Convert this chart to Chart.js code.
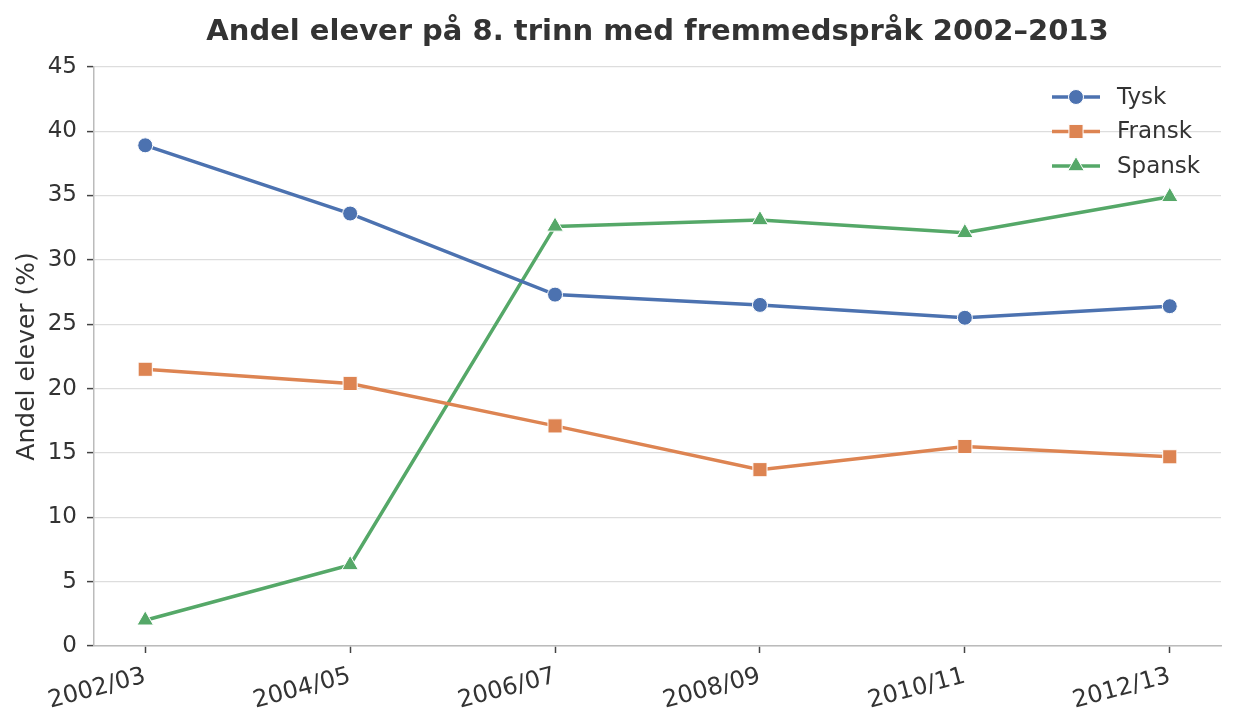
<!DOCTYPE html>
<html>
<head>
<meta charset="utf-8">
<script src="https://cdn.jsdelivr.net/npm/chart.js@4/dist/chart.umd.min.js"></script>
<style>
  html, body { margin: 0; padding: 0; background: #ffffff; }
  #wrap { width: 1236px; height: 726px; }
</style>
</head>
<body>
<div id="wrap"><canvas id="c1" width="1236" height="726"></canvas></div>
<script>
    'use strict'

    var years = ["2002/03", "2004/05", "2006/07", "2008/09", "2010/11", "2012/13"];
    var tysk = [38.9, 33.6, 27.3, 26.5, 25.5, 26.4];
    var fransk = [21.5, 20.4, 17.1, 13.7, 15.5, 14.7];
    var spansk = [2.0, 6.3, 32.6, 33.1, 32.1, 34.9];
    var yTicks = [0, 5, 10, 15, 20, 25, 30, 35, 40, 45];

    var FONT = "'DejaVu Sans', sans-serif";
    var TXT = '#333333';

    function toPoints(arr) {
        return arr.map(function (v, i) { return { x: i, y: v }; });
    }

    function makeSet(label, arr, color, style, r) {
        return {
            label: label,
            data: toPoints(arr),
            borderColor: color,
            backgroundColor: color,
            borderWidth: 3.5,
            tension: 0,
            pointStyle: style,
            pointRadius: r,
            pointHoverRadius: r,
            pointBackgroundColor: color,
            pointBorderColor: '#ffffff',
            pointBorderWidth: 1
        };
    }

    // legend drawn inside plot, top right, no frame
    var legendInside = {
        id: 'legendInside',
        beforeDraw: function (chart) {
            // centre the title over the plot area
            if (chart.titleBlock) {
                chart.titleBlock.left = chart.chartArea.left;
                chart.titleBlock.right = chart.chartArea.right;
            }
        },
        afterDraw: function (chart) {
            var ctx = chart.ctx;
            var x0 = 1052, x1 = 1100, tx = 1117;
            var y = 97, step = 34.5;
            ctx.save();
            chart.data.datasets.forEach(function (ds, i) {
                var yy = y + i * step;
                ctx.strokeStyle = ds.borderColor;
                ctx.lineWidth = 3.5;
                ctx.beginPath();
                ctx.moveTo(x0, yy);
                ctx.lineTo(x1, yy);
                ctx.stroke();
                ctx.fillStyle = ds.borderColor;
                ctx.strokeStyle = '#ffffff';
                ctx.lineWidth = 1;
                Chart.helpers.drawPoint(ctx, {
                    pointStyle: ds.pointStyle, radius: ds.pointRadius, rotation: 0, borderWidth: 1
                }, (x0 + x1) / 2, yy);
                ctx.fillStyle = TXT;
                ctx.font = "23px " + FONT;
                ctx.textAlign = 'left';
                ctx.textBaseline = 'middle';
                ctx.fillText(ds.label, tx, yy + 1);
            });
            ctx.restore();
        }
    };

    var ctx1 = document.getElementById('c1').getContext('2d');
    var myLineChart = new Chart(ctx1, {
        type: 'line',
        data: {
            datasets: [
                makeSet('Tysk', tysk, '#4C72B0', 'circle', 7.5),
                makeSet('Fransk', fransk, '#DD8452', 'rect', 10),
                makeSet('Spansk', spansk, '#55A868', 'triangle', 9.5)
            ]
        },
        options: {
            responsive: false,
            animation: false,
            layout: { padding: { left: 0, right: 15, top: 0, bottom: 0 } },
            plugins: {
                legend: { display: false },
                tooltip: { enabled: false },
                title: {
                    display: true,
                    text: 'Andel elever på 8. trinn med fremmedspråk 2002–2013',
                    color: TXT,
                    font: { family: FONT, size: 29, weight: 'bold', lineHeight: 1.2 },
                    padding: { top: 15, bottom: 17 }
                }
            },
            scales: {
                x: {
                    type: 'linear',
                    min: -0.25,
                    max: 5.25,
                    afterBuildTicks: function (axis) {
                        axis.ticks = years.map(function (_, i) { return { value: i }; });
                    },
                    afterFit: function (scale) { scale.height = 80; },
                    border: { display: true, color: '#bbbbbb', width: 1.5 },
                    grid: { drawOnChartArea: false, drawTicks: true, tickLength: 7, tickColor: '#444444', tickWidth: 1.5 },
                    ticks: {
                        autoSkip: false,
                        minRotation: 15,
                        maxRotation: 15,
                        padding: 9,
                        color: TXT,
                        font: { family: FONT, size: 24 },
                        callback: function (v) { return years[v]; }
                    }
                },
                y: {
                    min: 0,
                    max: 45,
                    afterBuildTicks: function (axis) {
                        axis.ticks = yTicks.map(function (v) { return { value: v }; });
                    },
                    afterFit: function (scale) { scale.width = 94; },
                    border: { display: true, color: '#bbbbbb', width: 1.5 },
                    grid: { color: '#dddddd', lineWidth: 1.2, drawTicks: true, tickLength: 7, tickColor: '#444444', tickWidth: 1.5 },
                    ticks: {
                        padding: 10,
                        color: TXT,
                        font: { family: FONT, size: 23 }
                    },
                    title: {
                        display: true,
                        text: 'Andel elever (%)',
                        color: TXT,
                        font: { family: FONT, size: 25, lineHeight: 1.2 },
                        padding: { top: 12, bottom: 0 }
                    }
                }
            }
        },
        plugins: [legendInside]
    });
</script>
</body>
</html>
